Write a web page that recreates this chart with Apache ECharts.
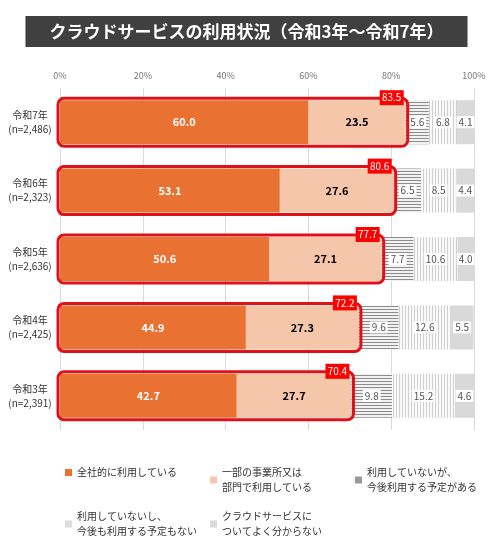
<!DOCTYPE html>
<html>
<head>
<meta charset="UTF-8">
<title></title>
<script src="https://cdn.jsdelivr.net/npm/echarts@6/dist/echarts.min.js"></script>
<style>
  body { margin: 0; background: #fff; }
  #main { width: 493px; height: 538px; }
</style>
</head>
<body>
<div id="main"></div>
<script>
var years = ['令和7年\n(n=2,486)', '令和6年\n(n=2,323)', '令和5年\n(n=2,636)', '令和4年\n(n=2,425)', '令和3年\n(n=2,391)'];
var zensha = [60.0, 53.1, 50.6, 44.9, 42.7];
var ichibu = [23.5, 27.6, 27.1, 27.3, 27.7];
var yotei = [5.6, 6.5, 7.7, 9.6, 9.8];
var nashi = [6.8, 8.5, 10.6, 12.6, 15.2];
var fumei = [4.1, 4.4, 4.0, 5.5, 4.6];
var totals = [83.5, 80.6, 77.7, 72.2, 70.4];
var names = ['全社的に利用している', '一部の事業所又は\n部門で利用している', '利用していないが、\n今後利用する予定がある', '利用していないし、\n今後も利用する予定もない', 'クラウドサービスに\nついてよく分からない'];

function stripe(dir) {
  var c = document.createElement('canvas');
  c.width = 3; c.height = 3;
  var g = c.getContext('2d');
  g.fillStyle = dir === 'h' ? '#f2f2f2' : '#fafafa';
  g.fillRect(0, 0, 3, 3);
  g.fillStyle = dir === 'h' ? '#8c8c8c' : '#d0d0d0';
  if (dir === 'h') g.fillRect(0, 0, 3, 1); else g.fillRect(0, 0, 1, 3);
  return { image: c, repeat: 'repeat' };
}

var chart = echarts.init(document.getElementById('main'));
var font = '"Noto Sans CJK JP", sans-serif';

function seg(name, data, color, lbl) {
  return {
    name: name, type: 'bar', stack: 'a', data: data, barWidth: 44,
    itemStyle: { color: color },
    label: lbl
  };
}
var smallLbl = {
  show: true, position: 'inside', color: '#555', fontSize: 10, fontFamily: font,
  backgroundColor: '#fff', padding: [1, 2], formatter: function (p) { return p.value.toFixed(1); }
};

var legendPos = [[60, 460], [205, 460], [350, 460], [60, 504], [205, 504]];
var legendColors = ['#e97132', '#f5c6aa', '#999', '#ddd', '#d9d9d9'];

chart.setOption({
  textStyle: { fontFamily: font },
  title: {
    text: 'クラウドサービスの利用状況（令和3年～令和7年）',
    left: 'center', top: 16,
    textStyle: { color: '#fff', fontSize: 17, fontWeight: 'bold', fontFamily: font },
    backgroundColor: '#404040', padding: [7, 24], itemGap: 0
  },
  legend: legendPos.map(function (p, i) {
    return {
      data: [{ name: names[i], itemStyle: { color: legendColors[i] } }],
      left: p[0], top: p[1], itemWidth: 7, itemHeight: 7, itemGap: 4,
      icon: 'rect', textStyle: { fontSize: 10, color: '#333', lineHeight: 15 }
    };
  }),
  grid: { left: 60, right: 19, top: 88, height: 342 },
  xAxis: {
    type: 'value', position: 'top', min: 0, max: 100, interval: 20,
    axisLabel: { formatter: '{value}%', color: '#777', fontSize: 9 },
    axisLine: { show: false }, axisTick: { show: false },
    splitLine: { lineStyle: { color: '#d9d9d9' } }
  },
  yAxis: {
    type: 'category', data: years, inverse: true,
    axisLine: { show: false }, axisTick: { show: false },
    axisLabel: { color: '#333', fontSize: 10, lineHeight: 14, align: 'center', margin: 30 }
  },
  series: [
    seg(names[0], zensha, '#e97132', { show: true, color: '#fff', fontWeight: 'bold', fontSize: 11, formatter: function (p) { return p.value.toFixed(1); } }),
    seg(names[1], ichibu, '#f5c6aa', { show: true, color: '#000', fontWeight: 'bold', fontSize: 11, formatter: function (p) { return p.value.toFixed(1); } }),
    seg(names[2], yotei, stripe('h'), smallLbl),
    seg(names[3], nashi, stripe('v'), smallLbl),
    seg(names[4], fumei, '#d9d9d9', smallLbl),
    {
      type: 'custom', z: 10, silent: true,
      data: totals.map(function (t, i) { return [t, i]; }),
      encode: { x: 0, y: 1 },
      renderItem: function (params, api) {
        var end = api.coord([api.value(0), api.value(1)]);
        var start = api.coord([0, api.value(1)]);
        var h = 48;
        return {
          type: 'group',
          children: [
            { type: 'rect', shape: { x: start[0] - 2, y: end[1] - h / 2, width: end[0] - start[0] + 4, height: h, r: 6 },
              style: { fill: 'none', stroke: '#e0101a', lineWidth: 3 } },
            { type: 'rect', shape: { x: end[0] - 26, y: end[1] - h / 2 - 8, width: 24, height: 15 },
              style: { fill: '#ff0000' } },
            { type: 'text', x: end[0] - 14, y: end[1] - h / 2 - 0.5,
              style: { text: api.value(0).toFixed(1), fill: '#fff', fontSize: 10, align: 'center', verticalAlign: 'middle', fontFamily: font } }
          ]
        };
      }
    }
  ]
});
</script>
</body>
</html>
